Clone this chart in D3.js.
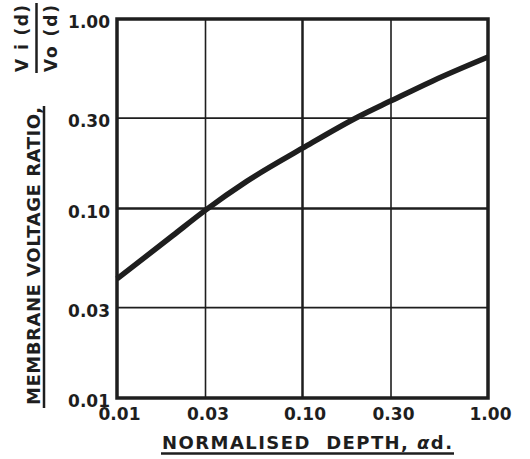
<!DOCTYPE html>
<html>
<head>
<meta charset="utf-8">
<script src="https://cdn.jsdelivr.net/npm/d3@7"></script>
<style>
  html, body { margin: 0; padding: 0; background: #fff; }
  svg { display: block; }
  text { font-family: "DejaVu Sans", sans-serif; font-weight: bold; fill: #1e1e1e; }
</style>
</head>
<body>
<svg id="chart" width="530" height="459"></svg>
<script>
// ---- data ----
const depth = [0.01, 0.02, 0.03, 0.05, 0.1, 0.2, 0.3, 0.5, 1.0];
const voltageRatio = [0.0425, 0.072, 0.098, 0.139, 0.208, 0.305, 0.37, 0.47, 0.63];
const xTicks = [0.01, 0.03, 0.10, 0.30, 1.00];
const yTicks = [0.01, 0.03, 0.10, 0.30, 1.00];
const xTickLabels = ["0.01", "0.03", "0.10", "0.30", "1.00"];
const yTickLabels = ["0.01", "0.03", "0.10", "0.30", "1.00"];
const xGrid = [0.03, 0.10, 0.30];
const yGrid = [0.03, 0.10, 0.30];

// ---- layout ----
const ink = "#1e1e1e";
const L = 117, R = 488, T = 19, B = 398;
const svg = d3.select("#chart");

const x = d3.scaleLog().domain([0.01, 1]).range([L, R]);
const y = d3.scaleLog().domain([0.01, 1]).range([B, T]);

// grid
svg.append("g").selectAll("line").data(xGrid).join("line")
  .attr("x1", d => x(d)).attr("x2", d => x(d))
  .attr("y1", T).attr("y2", B)
  .attr("stroke", ink)
  .attr("stroke-width", d => d === 0.10 ? 2.5 : 1.6);
svg.append("g").selectAll("line").data(yGrid).join("line")
  .attr("y1", d => y(d)).attr("y2", d => y(d))
  .attr("x1", L).attr("x2", R)
  .attr("stroke", ink)
  .attr("stroke-width", d => d === 0.10 ? 2.5 : 1.6);

// frame
svg.append("rect")
  .attr("x", L).attr("y", T).attr("width", R - L).attr("height", B - T)
  .attr("fill", "none").attr("stroke", ink).attr("stroke-width", 3.5);

// axes (labels only)
const xAxis = d3.axisBottom(x).tickValues(xTicks)
  .tickFormat((d, i) => xTickLabels[i]).tickSize(0).tickPadding(10);
const gx = svg.append("g").attr("transform", `translate(0,${B})`).call(xAxis);
gx.select(".domain").remove();
gx.selectAll("text").attr("font-size", 17).attr("dx", 2)
  .style("font-family", '"DejaVu Sans", sans-serif').style("font-weight", "bold").attr("fill", ink);

const yAxis = d3.axisLeft(y).tickValues(yTicks)
  .tickFormat((d, i) => yTickLabels[i]).tickSize(0).tickPadding(7);
const gy = svg.append("g").attr("transform", `translate(${L},0)`).call(yAxis);
gy.select(".domain").remove();
gy.selectAll("text").attr("font-size", 17).attr("dy", "0.5em")
  .style("font-family", '"DejaVu Sans", sans-serif').style("font-weight", "bold").attr("fill", ink);

// curve
const line = d3.line()
  .x((d, i) => x(depth[i]))
  .y((d, i) => y(voltageRatio[i]))
  .curve(d3.curveMonotoneX);
svg.append("path")
  .attr("d", line(depth))
  .attr("fill", "none").attr("stroke", ink)
  .attr("stroke-width", 5.5).attr("stroke-linecap", "butt");

// x axis title
const xt = svg.append("text")
  .attr("x", 162).attr("y", 449)
  .attr("font-size", 18)
  .attr("textLength", 290).attr("lengthAdjust", "spacing")
  .attr("xml:space", "preserve");
xt.append("tspan").text("NORMALISED  DEPTH, ");
xt.append("tspan").attr("font-style", "italic").text("α");
xt.append("tspan").text("d.");
svg.append("line").attr("x1", 161).attr("x2", 454).attr("y1", 453.5).attr("y2", 453.5)
  .attr("stroke", ink).attr("stroke-width", 2.5);

// y axis title
svg.append("text")
  .attr("transform", "translate(40,405) rotate(-90)")
  .attr("font-size", 18)
  .attr("textLength", 298).attr("lengthAdjust", "spacing")
  .text("MEMBRANE VOLTAGE RATIO,");
svg.append("line").attr("x1", 44).attr("x2", 44).attr("y1", 106).attr("y2", 408)
  .attr("stroke", ink).attr("stroke-width", 2.5);

// fraction Vi(d)/Vo(d)
svg.append("text")
  .attr("transform", "translate(28,72) rotate(-90)")
  .attr("font-size", 17)
  .attr("textLength", 67).attr("lengthAdjust", "spacing")
  .attr("xml:space", "preserve")
  .text("V i (d)");
svg.append("line").attr("x1", 36.5).attr("x2", 36.5).attr("y1", 3).attr("y2", 73)
  .attr("stroke", ink).attr("stroke-width", 2.5);
svg.append("text")
  .attr("transform", "translate(57,72) rotate(-90)")
  .attr("font-size", 17)
  .attr("textLength", 67).attr("lengthAdjust", "spacing")
  .attr("xml:space", "preserve")
  .text("Vo (d)");
</script>
</body>
</html>
